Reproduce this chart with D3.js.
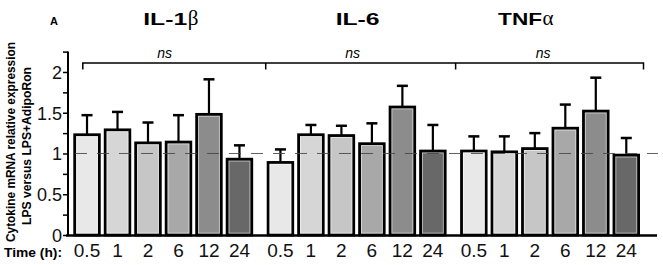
<!DOCTYPE html>
<html>
<head>
<meta charset="utf-8">
<script src="https://cdn.jsdelivr.net/npm/d3@7"></script>
<style>
  body { margin: 0; background: #fff; }
  svg { display: block; }
  .narrow { font-family: "Liberation Sans Narrow", "Arial Narrow", "Liberation Sans", Arial, sans-serif; }
</style>
</head>
<body>
<svg id="chart" width="663" height="265"></svg>
<script>
// Data
const cytokines = ['IL-1', 'IL-6', 'TNF'];
const greek = ['β', '', 'α'];
const times = ['0.5', '1', '2', '6', '12', '24'];
const il1bMean = [1.23, 1.29, 1.13, 1.14, 1.48, 0.93];
const il1bErr  = [0.24, 0.22, 0.25, 0.33, 0.43, 0.17];
const il6Mean  = [0.89, 1.23, 1.22, 1.12, 1.57, 1.03];
const il6Err   = [0.16, 0.12, 0.12, 0.25, 0.26, 0.32];
const tnfMean  = [1.03, 1.02, 1.06, 1.31, 1.52, 0.98];
const tnfErr   = [0.18, 0.19, 0.19, 0.29, 0.41, 0.21];
const yTicks = [0, 0.5, 1, 1.5, 2];
const timeColors = ['#e8e8e8', '#d6d6d6', '#c6c6c6', '#a8a8a8', '#8c8c8c', '#686868'];

const means = [il1bMean, il6Mean, tnfMean];
const errs = [il1bErr, il6Err, tnfErr];
const rows = [];
cytokines.forEach((c, i) => {
    times.forEach((t, j) => {
        rows.push({cyto: c, time: t, mean: means[i][j], err: errs[i][j]});
    });
});

const svg = d3.select('#chart');

// Scales
const y = d3.scaleLinear().domain([0, 2.25]).range([235, 51.6]);
const x0 = d3.scaleBand().domain(cytokines).range([73.3, 640]).paddingInner(0.07);
const x1 = d3.scaleBand().domain(times).range([0, x0.bandwidth()]).paddingInner(0.1);
const color = d3.scaleOrdinal().domain(times).range(timeColors);

// Y axis
const yAxis = svg.append('g')
    .attr('transform', 'translate(68,0)')
    .call(d3.axisLeft(y).tickValues(d3.range(0, 2.26, 0.25)).tickSize(5).tickPadding(1)
        .tickFormat(d => yTicks.includes(d) ? d3.format('')(d) : ''));
yAxis.select('.domain').attr('stroke-width', 2).attr('d', `M0,${y(2.25)}V${y(0) + 1}`);
yAxis.selectAll('.tick line').attr('stroke-width', 1.5);
yAxis.selectAll('.tick text')
    .attr('class', 'narrow')
    .style('font-size', '18px')
    .attr('fill', '#111')
    .attr('dy', '0.36em');

// Bars
const bw = x1.bandwidth();
const bars = svg.append('g').selectAll('g')
    .data(rows)
    .join('g')
    .attr('transform', d => `translate(${x0(d.cyto) + x1(d.time)},0)`);

bars.append('line')
    .attr('x1', bw / 2).attr('x2', bw / 2)
    .attr('y1', d => y(d.mean)).attr('y2', d => y(d.mean + d.err))
    .attr('stroke', '#000').attr('stroke-width', 2.2);
bars.append('line')
    .attr('x1', bw / 2 - 5.5).attr('x2', bw / 2 + 5.5)
    .attr('y1', d => y(d.mean + d.err)).attr('y2', d => y(d.mean + d.err))
    .attr('stroke', '#000').attr('stroke-width', 2.5);

bars.append('rect')
    .attr('x', 1.4)
    .attr('width', bw - 2.8)
    .attr('y', d => y(d.mean))
    .attr('height', d => y(0) - y(d.mean))
    .attr('fill', d => color(d.time))
    .attr('stroke', '#000')
    .attr('stroke-width', 2.8);
// thin light inner edge
bars.append('rect')
    .attr('x', 3.3)
    .attr('width', bw - 6.6)
    .attr('y', d => y(d.mean) + 1.9)
    .attr('height', d => y(0) - y(d.mean) - 3.8)
    .attr('fill', 'none')
    .attr('stroke', '#fff')
    .attr('stroke-opacity', 0.55)
    .attr('stroke-width', 0.9);

// dashed reference line at 1, drawn over the bars
svg.append('line')
    .attr('x1', 75).attr('x2', 658)
    .attr('y1', y(1)).attr('y2', y(1))
    .attr('stroke', '#444')
    .attr('stroke-opacity', 0.85)
    .attr('stroke-width', 1)
    .attr('stroke-dasharray', '12,10');

// X axis baseline
svg.append('line')
    .attr('x1', 66).attr('x2', 657)
    .attr('y1', y(0) + 0.5).attr('y2', y(0) + 0.5)
    .attr('stroke', '#000').attr('stroke-width', 2.5);

// Time labels
bars.append('text')
    .attr('class', 'narrow')
    .attr('x', bw / 2)
    .attr('y', 257)
    .attr('text-anchor', 'middle')
    .style('font-size', '19px')
    .attr('fill', '#111')
    .text(d => d.time);

svg.append('text')
    .attr('class', 'narrow')
    .attr('x', 4).attr('y', 257)
    .style('font-size', '12.5px').style('font-weight', 'bold')
    .attr('textLength', 58).attr('lengthAdjust', 'spacingAndGlyphs')
    .text('Time (h):');

// Y axis title
const yTitle = svg.append('text')
    .attr('class', 'narrow')
    .attr('transform', 'rotate(-90)')
    .attr('text-anchor', 'middle')
    .style('font-weight', 'bold')
    .style('font-size', '13px');
yTitle.append('tspan').attr('x', -142).attr('y', 15)
    .attr('textLength', 200).attr('lengthAdjust', 'spacingAndGlyphs')
    .text('Cytokine mRNA relative expression');
yTitle.append('tspan').attr('x', -146).attr('y', 31)
    .attr('textLength', 158).attr('lengthAdjust', 'spacingAndGlyphs')
    .text('LPS versus LPS+AdipoRon');

// Panel letter
svg.append('text')
    .attr('x', 50).attr('y', 25)
    .style('font-family', 'Liberation Sans, Arial, sans-serif')
    .style('font-weight', 'bold').style('font-size', '11px')
    .text('A');

// Titles
const titleShift = [-20, -21, -52];
cytokines.forEach((c, i) => {
    const x = x0(c) + x0.bandwidth() / 2 + titleShift[i];
    svg.append('text')
        .attr('x', x).attr('y', 25)
        .style('font-family', 'Liberation Sans, Arial, sans-serif')
        .style('font-weight', 'bold').style('font-size', '17px')
        .attr('textLength', 44).attr('lengthAdjust', 'spacingAndGlyphs')
        .text(c);
    if (greek[i]) {
        svg.append('text')
            .attr('x', x + 44.5).attr('y', 25)
            .style('font-family', 'Liberation Serif, Times New Roman, serif')
            .style('font-size', '21px')
            .text(greek[i]);
    }
});

// Significance bracket
const bTop = 63, bTick = 69.5;
const gStart = cytokines.map(c => x0(c));
const bLeft = gStart[0] + 9.5;
const bRight = x0('TNF') + x0.bandwidth() + 3.5;
const mids = [gStart[1] - 1, gStart[2] - 4.5];
svg.append('path')
    .attr('d', `M${bLeft},${bTick}V${bTop}H${bRight}V${bTick}` +
        mids.map(m => `M${m},${bTop}V${bTick}`).join(''))
    .attr('fill', 'none')
    .attr('stroke', '#000')
    .attr('stroke-width', 1.5);

const nsShift = [1.5, -4, -7];
cytokines.forEach((c, i) => {
    svg.append('text')
        .attr('x', x0(c) + x0.bandwidth() / 2 + nsShift[i])
        .attr('y', 58)
        .attr('text-anchor', 'middle')
        .style('font-family', 'Liberation Sans, Arial, sans-serif')
        .style('font-style', 'italic').style('font-size', '14px')
        .text('ns');
});
</script>
</body>
</html>
